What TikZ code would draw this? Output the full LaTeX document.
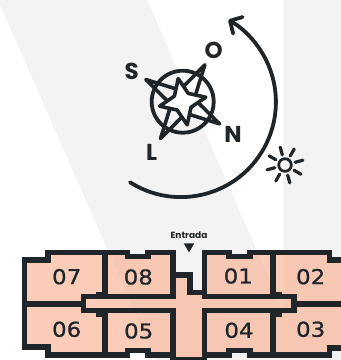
\documentclass[tikz,border=0pt]{standalone}
\usepackage{fontspec}
\setmainfont{Poppins}
\newfontfamily\unitfont[FakeStretch=1.12,FakeBold=0.8]{DejaVu Sans}
\usetikzlibrary{arrows.meta,calc}
\definecolor{wallc}{RGB}{31,37,40}
\definecolor{bandc}{RGB}{243,243,244}
\definecolor{floorc}{RGB}{248,172,138}
\tikzset{
  wall/.style = {draw=wallc, line width=5.4pt, line join=miter},
  nub/.style  = {fill=wallc, draw=none},
  unit/.style = {font=\unitfont\fontsize{20.5}{20.5}\selectfont, text=wallc, inner sep=0pt},
  cardinal/.style = {font=\bfseries\fontsize{23}{23}\selectfont, text=wallc, inner sep=0pt},
  ink/.style  = {draw=wallc, line width=3.8pt, line cap=round, line join=round},
  thin ink/.style = {ink, line width=3.6pt},
  ray/.style  = {draw=wallc, line width=3.2pt, line cap=round},
  arr/.style  = {-{Straight Barb[length=9pt,width=19pt,line width=3.8pt,round]}}
}
\begin{document}
\begin{tikzpicture}[x=1pt,y=-1pt]
    \useasboundingbox (0,0) rectangle (341,360);
    \clip (0,0) rectangle (341,360);
    % background
    \fill[bandc] (-2,0) -- (147,0) -- (305,360) -- (156,360) -- cycle;
    \fill[bandc] (283,0) rectangle (341,360);
    % compass
    \coordinate (hub) at (182.7,101.7);
    \draw[ink] (hub) circle (31);
    \foreach \a in {31,121,211,301}
      \draw[thin ink] ($(hub)+(\a-38:13)$) -- ($(hub)+(\a:43)$) -- ($(hub)+(\a+38:13)$);
    \draw[thin ink,fill=white]
      ($(hub)+(79:23.5)$) -- ($(hub)+(124:10)$) -- ($(hub)+(169:23.5)$) -- ($(hub)+(214:10)$)
      -- ($(hub)+(259:23.5)$) -- ($(hub)+(304:10)$) -- ($(hub)+(349:23.5)$) -- ($(hub)+(34:10)$) -- cycle;
    \node[cardinal] (north) at (233,134) {N};
    \node[cardinal] (south) at (131.7,71.7) {S};
    \node[cardinal] (east)  at (151.7,152.3) {L};
    \node[cardinal] (west)  at (213.7,50) {O};
    % big arrow
    \draw[ink,arr] (130,182.3) arc[start angle=122.4,end angle=-60,radius=95];
    % sun
    \coordinate (sun) at (285,165);
    \draw[draw=wallc,line width=2.8pt] (sun) circle (6.3);
    \foreach \a in {-105,-60,-15,30,75,120,165,210}
      \draw[ray] ($(sun)+(\a:10.5)$) -- ($(sun)+(\a:18.5)$);
    % floor
    \path[fill=floorc,fill opacity=.6]
      (24.5,260) -- (48,260) -- (48,252.5) -- (127.5,252.5) -- (127.5,256.5) -- (148.2,256.5)
      -- (148.2,252.5) -- (173,252.5) -- (173,275) -- (190,275) -- (190,292.5) -- (204.5,292.5)
      -- (204.5,252.5) -- (229.2,252.5) -- (229.2,256.5) -- (250.2,256.5) -- (250.2,252.5)
      -- (329.5,252.5) -- (329.5,260) -- (346,260) -- (346,347.8) -- (329.5,347.8) -- (329.5,355)
      -- (250.2,355) -- (250.2,350.7) -- (229.2,350.7) -- (229.2,355) -- (204.5,355) -- (204.5,364)
      -- (173,364) -- (173,355) -- (148.2,355) -- (148.2,350.7) -- (127.5,350.7) -- (127.5,355)
      -- (48,355) -- (48,347) -- (24.5,347) -- cycle;
    \draw[wall]
      (24.5,260) -- (48,260) -- (48,252.5) -- (127.5,252.5) -- (127.5,256.5) -- (148.2,256.5)
      -- (148.2,252.5) -- (173,252.5) -- (173,275) -- (190,275) -- (190,292.5) -- (204.5,292.5)
      -- (204.5,252.5) -- (229.2,252.5) -- (229.2,256.5) -- (250.2,256.5) -- (250.2,252.5)
      -- (329.5,252.5) -- (329.5,260) -- (346,260);
    \draw[wall] (346,347.8) -- (329.5,347.8) -- (329.5,355)
      -- (250.2,355) -- (250.2,350.7) -- (229.2,350.7) -- (229.2,355) -- (204.5,355) -- (204.5,364);
    \draw[wall] (173,364) -- (173,355) -- (148.2,355) -- (148.2,350.7) -- (127.5,350.7) -- (127.5,355)
      -- (48,355) -- (48,347) -- (24.5,347) -- (24.5,257.3);
    \draw[wall] (173,359.5) -- (204.5,359.5);
    % inner walls
    \draw[wall] (105,252.5) -- (105,296.5);
    \draw[wall] (105,310.5) -- (105,355);
    \draw[wall] (173,275) -- (173,296.5) -- (83.5,296.5) -- (83.5,310.5) -- (173,310.5) -- (173,355);
    \draw[wall] (24.5,304) -- (83.5,304);
    \draw[wall] (204.5,292.5) -- (204.5,296.5) -- (294,296.5) -- (294,310.5) -- (204.5,310.5) -- (204.5,355);
    \draw[wall] (273,252.5) -- (273,296.5);
    \draw[wall] (273,310.5) -- (273,355);
    \draw[wall] (294,304) -- (346,304);
    \fill[nub] (96,292) rectangle (102,297);
    \fill[nub] (96,310) rectangle (102,316.5);
    \fill[nub] (275.7,292) rectangle (281.7,297);
    \fill[nub] (275.7,310) rectangle (281.7,316.5);
    % entrance
    \fill[wallc] (183.7,243.3) -- (194.3,243.3) -- (189,252.3) -- cycle;
    \node[font=\bfseries\fontsize{9}{9}\selectfont,text=wallc,inner sep=0pt] (entrada) at (189,235.5) {Entrada};
    % units
    \node[unit] (u07) at (66.7,276.7) {07};
    \node[unit] (u08) at (138.3,277) {08};
    \node[unit] (u06) at (66.7,329.3) {06};
    \node[unit] (u05) at (138.7,331) {05};
    \node[unit] (u01) at (238.3,276) {01};
    \node[unit] (u02) at (310.7,276.7) {02};
    \node[unit] (u04) at (239,330.3) {04};
    \node[unit] (u03) at (310.7,329.3) {03};
  \end{tikzpicture}
\end{document}
